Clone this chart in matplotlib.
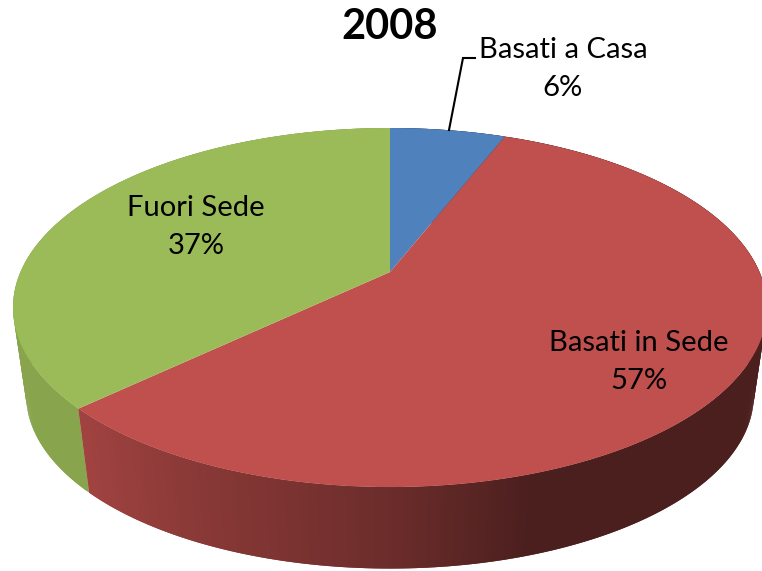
import numpy as np
import matplotlib
matplotlib.use("Agg")
import matplotlib.pyplot as plt
from matplotlib.collections import PolyCollection
from matplotlib.patches import Polygon

title = "2008"
labels = ["Basati a Casa", "Basati in Sede", "Fuori Sede"]
values = [6, 57, 37]
colors = ["#4f81bd", "#c0504d", "#9bbb59"]

plt.rcParams['font.family'] = ['Lato', 'DejaVu Sans']

W, H = 762, 571
fig = plt.figure(figsize=(W / 100, H / 100), dpi=100)
ax = fig.add_axes([0, 0, 1, 1])
ax.set_xlim(0, W)
ax.set_ylim(H, 0)
ax.axis('off')

# perspective of the pie disc
cx, cy = 390, 272
a, b, k = 369.5, 172.5, 0.198
cy_low, scale_low = 361, 0.965


def rim(t, low=False):
    u, v = np.sin(t), np.cos(t)
    w = 1 + k * v
    if low:
        return cx + scale_low * a * u / w, cy_low - scale_low * b * v / w
    return cx + a * u / w, cy - b * v / w


def wall_color(x, base):
    # side gets darker to the right
    base = np.array(matplotlib.colors.to_rgb(base))
    f = np.interp(x, [20, 90, 190, 400, 530, 762], [0.90, 0.83, 0.72, 0.55, 0.39, 0.39])
    return base * f


fracs = np.cumsum([0] + values) / sum(values) * 2 * np.pi

# walls first, top face covers the back part
for i in range(len(values)):
    ts = np.linspace(fracs[i], fracs[i + 1], int(values[i] * 6) + 2)
    x0, y0 = rim(ts)
    x1, y1 = rim(ts, low=True)
    # walk right to left over the front so each strip hides the seam of the last
    for j in range(len(ts) - 1):
        n = min(j + 2, len(ts) - 1)
        quad = [(x0[j], y0[j]), (x0[n], y0[n]), (x1[n], y1[n]), (x1[j], y1[j])]
        xm = (x0[j] + x1[j + 1]) / 2
        if colors[i] == "#9bbb59":
            col = np.array(matplotlib.colors.to_rgb(colors[i])) * 0.88
        else:
            col = wall_color(xm, colors[i])
        ax.add_patch(Polygon(quad, closed=True, facecolor=col, edgecolor='none', zorder=1 + j * 1e-4))

for i in range(len(values)):
    ts = np.linspace(fracs[i], fracs[i + 1], 200)
    x0, y0 = rim(ts)
    pts = [(cx, cy)] + list(zip(x0, y0))
    ax.add_patch(Polygon(pts, closed=True, facecolor=colors[i], edgecolor='none', zorder=2))

# labels
fs = 21
ax.text(390, 27, title, ha='center', va='center', fontsize=30, fontweight='bold', color='black', zorder=3)
ax.text(563, 69, f"{labels[0]}\n{values[0]}%", ha='center', va='center', fontsize=fs, linespacing=1.6, zorder=3)
ax.text(639, 362, f"{labels[1]}\n{values[1]}%", ha='center', va='center', fontsize=fs, linespacing=1.6, zorder=3)
ax.text(196, 227, f"{labels[2]}\n{values[2]}%", ha='center', va='center', fontsize=fs, linespacing=1.6, zorder=3)

# leader for the small slice
ax.plot([449, 463, 475], [130, 58, 58], color='black', lw=1.5, solid_joinstyle='miter', zorder=3)

fig.savefig("out.png", dpi=100)
